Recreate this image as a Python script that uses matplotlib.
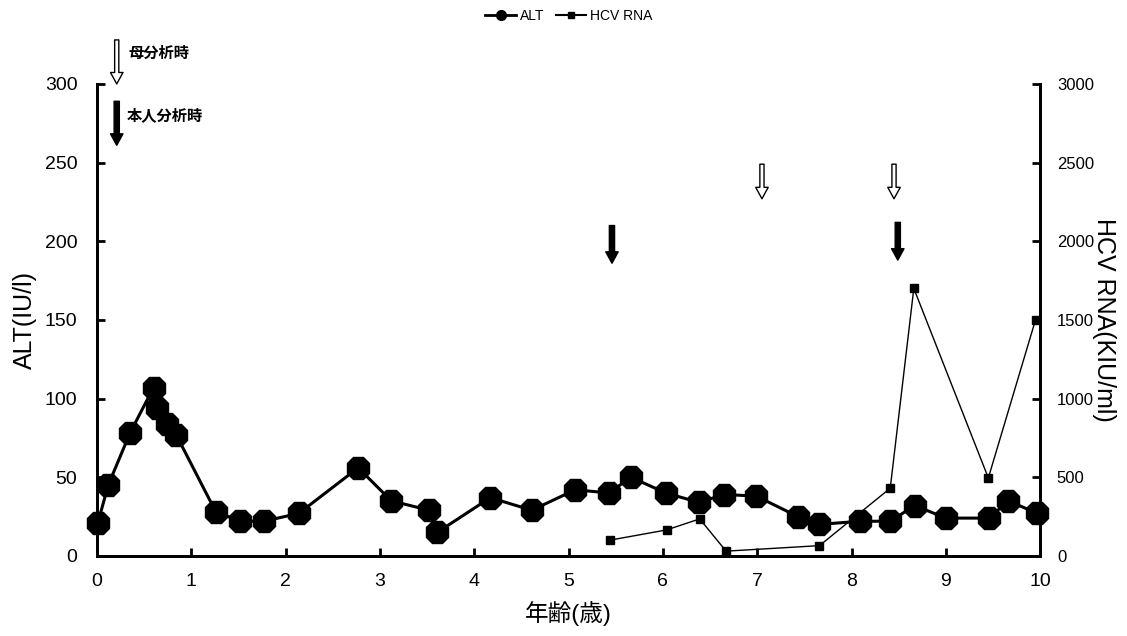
import matplotlib
matplotlib.use("Agg")
import matplotlib.pyplot as plt
from matplotlib.lines import Line2D

plt.rcParams['font.family'] = ['Liberation Sans', 'Noto Sans CJK JP', 'DejaVu Sans']

# ALT (IU/l) vs age (years)
alt_age = [0.01, 0.12, 0.35, 0.60, 0.64, 0.74, 0.84, 1.26, 1.52, 1.77, 2.14,
           2.77, 3.12, 3.52, 3.61, 4.17, 4.61, 5.07, 5.43, 5.66, 6.03, 6.38,
           6.65, 6.99, 7.43, 7.66, 8.09, 8.41, 8.67, 9.00, 9.46, 9.66, 9.97]
alt_val = [21, 45, 78, 107, 94, 84, 77, 28, 22, 22, 27,
           56, 35, 29, 15, 37, 29, 42, 40, 50, 40, 34,
           39, 38, 25, 20, 22, 22, 32, 24, 24, 35, 27]

# HCV RNA (KIU/ml) vs age
hcv_age = [5.44, 6.04, 6.39, 6.67, 7.66, 8.41, 8.66, 9.45, 9.95]
hcv_val = [100, 165, 235, 30, 65, 430, 1700, 495, 1500]

# analysis timing arrows (age, ALT-axis level of tail / tip)
mother_age = [0.21, 7.05, 8.45]
mother_tail = [328, 249, 249]
mother_tip = [300, 227, 227]
self_age = [0.21, 5.46, 8.49]
self_tail = [289, 210, 212]
self_tip = [261, 186, 188]

fig = plt.figure(figsize=(11.27, 6.36), dpi=100)
ax = fig.add_axes([0.086, 0.126, 0.837, 0.742])
ax2 = ax.twinx()

ax.plot(alt_age, alt_val, color='black', lw=2.2, marker='8', ms=17,
        mfc='black', mec='black', zorder=3, clip_on=False)
ax2.plot(hcv_age, hcv_val, color='black', lw=1.0, marker='s', ms=6,
         mfc='black', mec='black', zorder=2, clip_on=False)

ax.set_xlim(0, 10)
ax.set_ylim(0, 300)
ax2.set_ylim(0, 3000)
ax.set_xticks(range(0, 11))
ax.set_yticks(range(0, 301, 50))
ax2.set_yticks(range(0, 3001, 500))

ax.spines['top'].set_visible(False)
ax2.spines['top'].set_visible(False)
for a in (ax, ax2):
    for s in ('left', 'right', 'bottom'):
        a.spines[s].set_linewidth(2)
ax.tick_params(axis='y', direction='in', length=6, width=2, labelsize=14, pad=14)
ax.tick_params(axis='x', direction='in', length=6, width=2, labelsize=14, pad=12)
ax2.tick_params(axis='y', direction='in', length=6, width=2, labelsize=12, pad=12)

ax.set_ylabel('ALT(IU/l)', fontsize=18, labelpad=6)
ax2.set_ylabel('HCV RNA(KIU/ml)', fontsize=18, rotation=-90, va='center', ha='center')
ax2.yaxis.set_label_coords(1.068, 0.5)
ax.set_xlabel('年齢(歳)', fontsize=17, labelpad=8)

# arrows
for x, y0, y1 in zip(mother_age, mother_tail, mother_tip):
    ax.annotate('', xy=(x, y1), xytext=(x, y0), annotation_clip=False,
                arrowprops=dict(arrowstyle='simple,head_length=0.55,head_width=0.6,tail_width=0.2',
                                fc='white', ec='black', lw=1.0, mutation_scale=15,
                                shrinkA=0, shrinkB=0))
for x, y0, y1 in zip(self_age, self_tail, self_tip):
    ax.annotate('', xy=(x, y1), xytext=(x, y0), annotation_clip=False,
                arrowprops=dict(arrowstyle='simple,head_length=0.55,head_width=0.6,tail_width=0.25',
                                fc='black', ec='black', lw=1.0, mutation_scale=15,
                                shrinkA=0, shrinkB=0))

ax.text(0.34, 319, '母分析時', fontsize=11, fontweight='bold', va='center', ha='left')
ax.text(0.32, 280, '本人分析時', fontsize=11, fontweight='bold', va='center', ha='left')

handles = [Line2D([], [], color='black', lw=2, marker='o', ms=7),
           Line2D([], [], color='black', lw=1.5, marker='s', ms=5)]
fig.legend(handles, ['ALT', 'HCV RNA'], loc='upper center', bbox_to_anchor=(0.505, 1.005),
           ncol=2, frameon=False, fontsize=10, handlelength=2.2, columnspacing=0.8,
           handletextpad=0.3)

fig.savefig('out.png', dpi=100)
